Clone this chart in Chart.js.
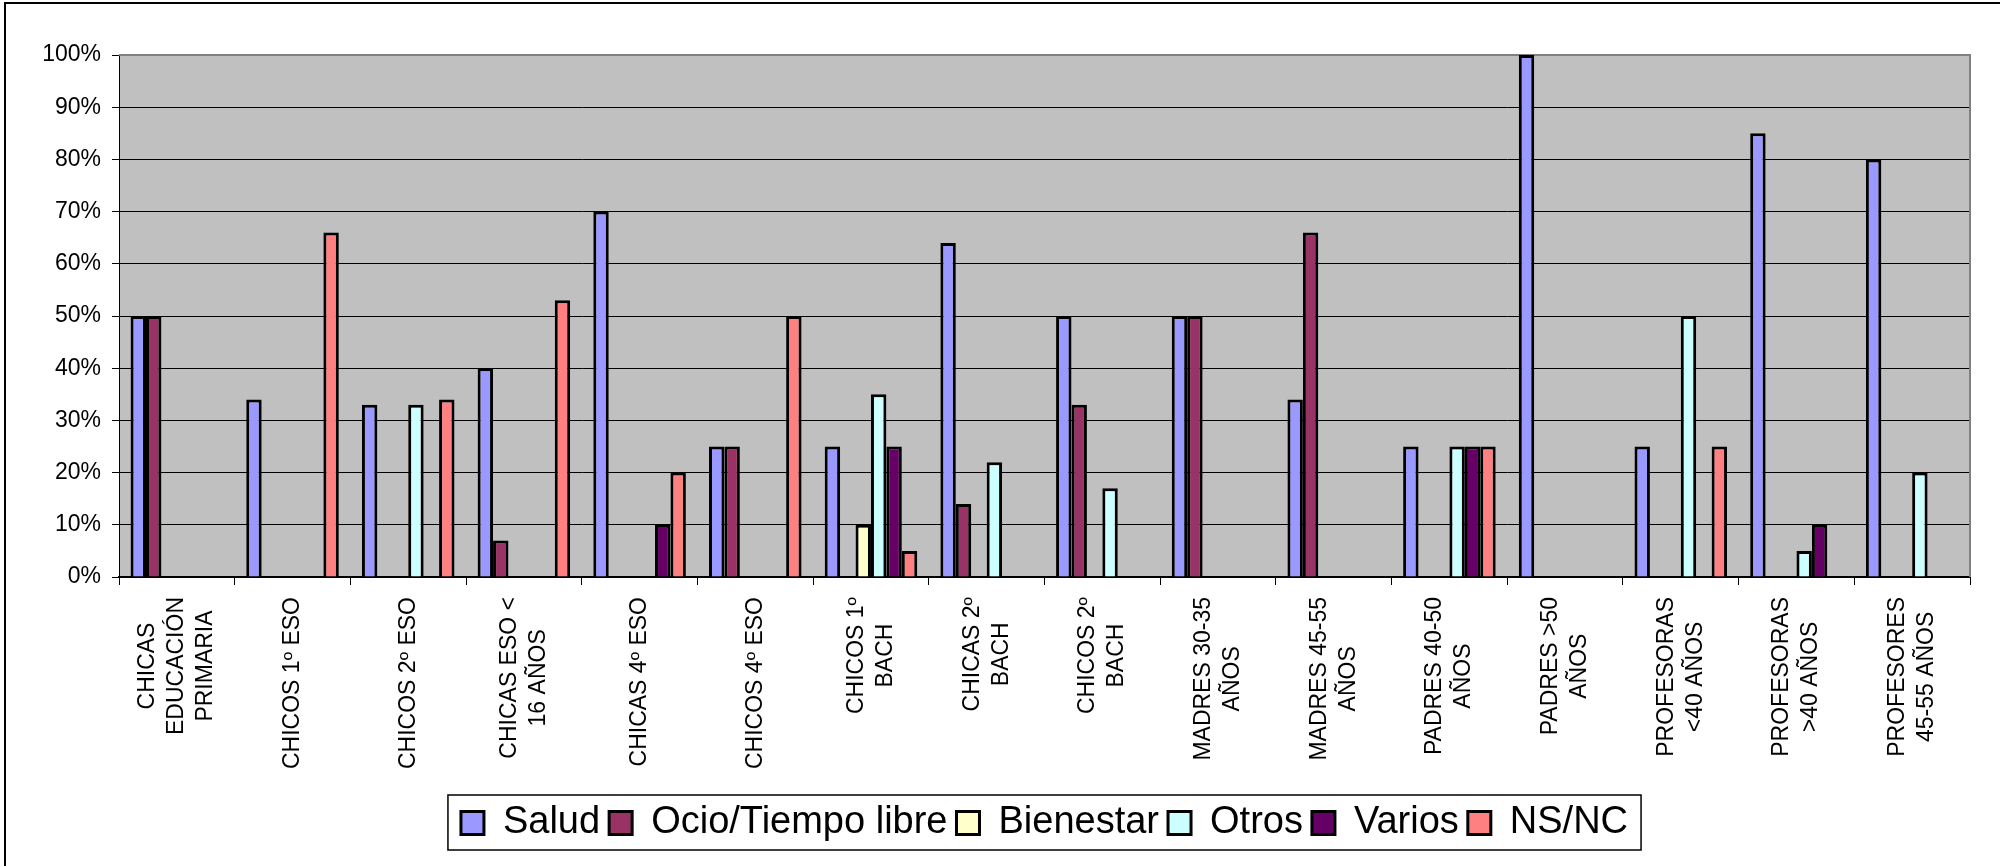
<!DOCTYPE html>
<html>
<head>
<meta charset="utf-8">
<script src="https://cdn.jsdelivr.net/npm/chart.js@4"></script>
<style>
  html, body { margin: 0; padding: 0; background: #fff; }
  #wrap { position: relative; width: 2000px; height: 866px; }
  canvas { display: block; }
</style>
</head>
<body>
<div id="wrap"><canvas id="c" width="2000" height="866"></canvas></div>
<script>
const categories = [
  ["CHICAS", "EDUCACIÓN", "PRIMARIA"],
  ["CHICOS 1º ESO"],
  ["CHICOS 2º ESO"],
  ["CHICAS ESO <", "16 AÑOS"],
  ["CHICAS 4º ESO"],
  ["CHICOS 4º ESO"],
  ["CHICOS 1º", "BACH"],
  ["CHICAS 2º", "BACH"],
  ["CHICOS 2º", "BACH"],
  ["MADRES 30-35", "AÑOS"],
  ["MADRES 45-55", "AÑOS"],
  ["PADRES 40-50", "AÑOS"],
  ["PADRES >50", "AÑOS"],
  ["PROFESORAS", "<40 AÑOS"],
  ["PROFESORAS", ">40 AÑOS"],
  ["PROFESORES", "45-55 AÑOS"]
];
const seriesNames = ["Salud", "Ocio/Tiempo libre", "Bienestar", "Otros", "Varios", "NS/NC"];
const salud     = [50, 34, 33, 40, 70, 25, 25, 64, 50, 50, 34, 25, 100, 25, 85, 80];
const ocio      = [50, null, null, 7, null, 25, null, 14, 33, 50, 66, null, null, null, null, null];
const bienestar = [null, null, null, null, null, null, 10, null, null, null, null, null, null, null, null, null];
const otros     = [null, null, 33, null, null, null, 35, 22, 17, null, null, 25, null, 50, 5, 20];
const varios    = [null, null, null, null, 10, null, 25, null, null, null, null, 25, null, null, 10, null];
const nsnc      = [null, 66, 34, 53, 20, 50, 5, null, null, null, null, 25, null, 25, null, null];
const yTicks = [0, 10, 20, 30, 40, 50, 60, 70, 80, 90, 100];

const colors = ["#9999FF", "#993366", "#FFFFCC", "#CCFFFF", "#660066", "#FF8080"];
const seriesValues = [salud, ocio, bienestar, otros, varios, nsnc];
const FONT = '"Liberation Sans", Arial, sans-serif';

const datasets = seriesNames.map((name, i) => ({
  label: name,
  data: seriesValues[i],
  backgroundColor: colors[i],
  borderColor: "#000000",
  borderWidth: 3,
  categoryPercentage: 0.8,
  barPercentage: 1.0
}));

const decorPlugin = {
  id: "decor",
  beforeDraw(chart) {
    const ctx = chart.ctx;
    const a = chart.chartArea;
    ctx.save();
    ctx.strokeStyle = "#000";
    ctx.lineWidth = 2;
    ctx.beginPath();
    ctx.moveTo(5, 866);
    ctx.lineTo(5, 3);
    ctx.lineTo(2000, 3);
    ctx.stroke();
    ctx.fillStyle = "#C0C0C0";
    ctx.fillRect(a.left, a.top, a.right - a.left, a.bottom - a.top);
    ctx.restore();
  },
  beforeDatasetsDraw(chart) {
    const ctx = chart.ctx;
    const a = chart.chartArea;
    ctx.save();
    ctx.strokeStyle = "#808080";
    ctx.lineWidth = 2;
    ctx.beginPath();
    ctx.moveTo(a.left, a.top);
    ctx.lineTo(a.right, a.top);
    ctx.lineTo(a.right, a.bottom);
    ctx.stroke();
    ctx.restore();
  },
  afterDraw(chart) {
    const ctx = chart.ctx;
    const a = chart.chartArea;
    const xs = chart.scales.x;
    ctx.save();
    ctx.fillStyle = "#000";
    ctx.font = "23px " + FONT;
    ctx.textAlign = "center";
    ctx.textBaseline = "middle";
    const lineH = 29;
    const top = a.bottom + 20;
    categories.forEach((lines, i) => {
      const x = xs.getPixelForValue(i);
      let maxW = 0;
      lines.forEach(l => { maxW = Math.max(maxW, ctx.measureText(l).width); });
      ctx.save();
      ctx.translate(x, top);
      ctx.rotate(-Math.PI / 2);
      const n = lines.length;
      lines.forEach((l, k) => {
        ctx.fillText(l, -maxW / 2, (k - (n - 1) / 2) * lineH);
      });
      ctx.restore();
    });
    const lg = chart.legend;
    if (lg && lg.legendHitBoxes && lg.legendHitBoxes.length) {
      const hb = lg.legendHitBoxes;
      const l = hb[0].left - 13;
      const last = hb[hb.length - 1];
      const r = last.left + last.width + 13;
      ctx.strokeStyle = "#000";
      ctx.lineWidth = 1.5;
      ctx.strokeRect(l, 795, r - l, 55);
    }
    ctx.restore();
  }
};

new Chart(document.getElementById("c"), {
  type: "bar",
  data: { labels: categories.map(c => c.join(" ")), datasets },
  plugins: [decorPlugin],
  options: {
    responsive: false,
    animation: false,
    layout: { padding: { left: 0, right: 30, top: 55, bottom: 14 } },
    plugins: {
      title: { display: false },
      tooltip: { enabled: false },
      legend: {
        display: true,
        position: "bottom",
        fullSize: false,
        align: "center",
        labels: {
          color: "#000",
          font: { family: FONT, size: 38 },
          boxWidth: 23,
          boxHeight: 23,
          padding: 9
        }
      }
    },
    scales: {
      x: {
        type: "category",
        offset: true,
        grid: {
          display: true,
          offset: true,
          drawOnChartArea: false,
          drawTicks: true,
          tickLength: 8,
          color: "#000",
          lineWidth: 1
        },
        border: { display: true, color: "#000", width: 2 },
        ticks: { display: false },
        afterFit(scale) { scale.height = 218; }
      },
      y: {
        min: 0,
        max: 100,
        afterBuildTicks(scale) { scale.ticks = yTicks.map(v => ({ value: v })); },
        ticks: {
          color: "#000",
          font: { family: FONT, size: 23 },
          padding: 11,
          callback: v => v + "%"
        },
        grid: {
          color: ctx => (ctx.tick && ctx.tick.value === 100) ? "rgba(0,0,0,0)" : "#000",
          tickColor: "#000",
          lineWidth: 1,
          tickLength: 7,
          drawTicks: true
        },
        border: { display: true, color: "#000", width: 1 },
        afterFit(scale) { scale.width = 119; }
      }
    }
  }
});
</script>
</body>
</html>
